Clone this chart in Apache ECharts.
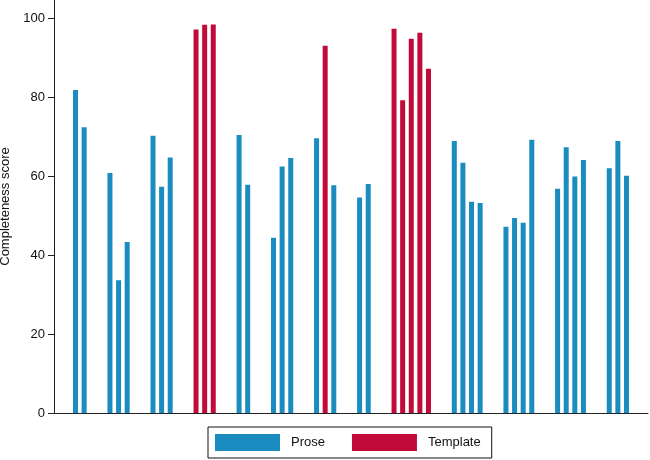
<!DOCTYPE html>
<html>
<head>
<meta charset="utf-8">
<script src="https://cdn.jsdelivr.net/npm/echarts@6/dist/echarts.min.js"></script>
<style>html,body{margin:0;padding:0;background:#fff}#c{width:650px;height:460px}</style>
</head>
<body>
<div id="c"></div>
<script>
// Bar groups (P = Prose, T = Template)
const groupKinds = ["PP", "PPP", "PPP", "TTT", "PP", "PPP", "PTP", "PP", "TTTTT", "PPPP", "PPPP", "PPPP", "PPP"];
const groupValues = [
  [81.8, 72.4],
  [60.8, 33.6, 43.3],
  [70.2, 57.3, 64.7],
  [97.1, 98.3, 98.4],
  [70.4, 57.8],
  [44.4, 62.4, 64.6],
  [69.6, 93.0, 57.7],
  [54.6, 58.0],
  [97.3, 79.2, 94.8, 96.3, 87.2],
  [68.9, 63.4, 53.5, 53.2],
  [47.2, 49.4, 48.2, 69.2],
  [56.8, 67.3, 59.9, 64.1],
  [62.0, 68.9, 60.1]
];
const seriesNames = ["Prose", "Template"];
const yTicks = [0, 20, 40, 60, 80, 100];

// Build category slots: blank slots at the edges and between groups
const categories = [];
const prose = [];
const template = [];
function blank(n) { for (let i = 0; i < n; i++) { categories.push(""); prose.push(null); template.push(null); } }
blank(2);
groupKinds.forEach((kinds, g) => {
  if (g > 0) blank(2);
  kinds.split("").forEach((k, i) => {
    categories.push("g" + (g + 1) + "_" + (i + 1));
    prose.push(k === "P" ? groupValues[g][i] : null);
    template.push(k === "T" ? groupValues[g][i] : null);
  });
});
blank(2);

const chart = echarts.init(document.getElementById('c'), null, {renderer: 'canvas'});
const font = 'Liberation Sans, Arial, Helvetica, sans-serif';
chart.setOption({
  animation: false,
  backgroundColor: '#fff',
  textStyle: {fontFamily: font},
  grid: {left: 54, right: 2, top: 0, bottom: 47, containLabel: false, outerBoundsMode: 'none'},
  legend: {
    data: seriesNames,
    left: 208, top: 427,
    padding: [7, 11, 7, 7],
    borderColor: '#111', borderWidth: 1,
    itemWidth: 65, itemHeight: 17, itemGap: 27,
    icon: 'rect',
    textStyle: {fontSize: 13, color: '#111', fontFamily: font, padding: [0, 0, 0, 6]},
    selectedMode: false
  },
  xAxis: {
    type: 'category',
    data: categories,
    boundaryGap: true,
    axisLine: {show: true, lineStyle: {color: '#222', width: 1}},
    axisTick: {show: false},
    axisLabel: {show: false},
    splitLine: {show: false}
  },
  yAxis: {
    type: 'value',
    min: 0, max: 104.6,
    name: 'Completeness score',
    nameLocation: 'middle',
    nameGap: 38,
    nameRotate: 90,
    nameTextStyle: {fontSize: 13, color: '#111', fontFamily: font},
    axisLine: {show: true, lineStyle: {color: '#222', width: 1}},
    axisTick: {show: true, length: 6, customValues: yTicks, lineStyle: {color: '#222'}},
    axisLabel: {show: true, customValues: yTicks, fontSize: 13, color: '#111', margin: 9, fontFamily: font},
    splitLine: {show: false}
  },
  series: [
    {name: seriesNames[0], type: 'bar', data: prose, barWidth: 5, barGap: '-100%', itemStyle: {color: '#1a8cc0'}},
    {name: seriesNames[1], type: 'bar', data: template, barWidth: 5, barGap: '-100%', itemStyle: {color: '#c20a3a'}}
  ]
});
</script>
</body>
</html>
